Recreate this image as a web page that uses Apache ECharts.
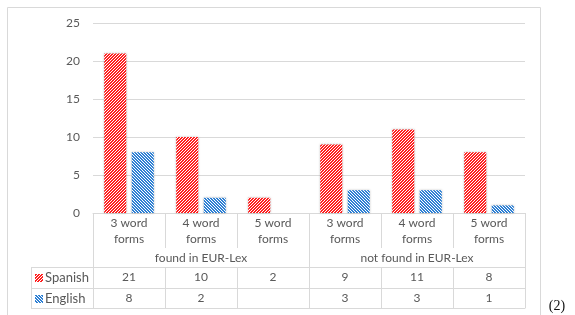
<!DOCTYPE html>
<html>
<head>
<meta charset="utf-8">
<script src="https://cdn.jsdelivr.net/npm/echarts@6/dist/echarts.min.js"></script>
<style>
  html, body { margin: 0; padding: 0; background: #fff; }
  #chart { width: 575px; height: 315px; }
</style>
</head>
<body>
<div id="chart"></div>
<script>
const categories = ['3 word\nforms', '4 word\nforms', '5 word\nforms', '3 word\nforms', '4 word\nforms', '5 word\nforms']
const groups = ['found in EUR-Lex', 'not found in EUR-Lex']
const seriesNames = ['Spanish', 'English']
const spanish = [21, 10, 2, 9, 11, 8]
const english = [8, 2, null, 3, 3, 1]
const yTicks = { min: 0, max: 25, interval: 5 }

const grey = '#595959'
const lineGrey = '#d9d9d9'
const font = 'Lato, "Open Sans", sans-serif'

// hatched fill, dir 1 = "/" and -1 = "\"
function hatch(color, dir, size) {
  const c = document.createElement('canvas')
  c.width = size
  c.height = size
  const ctx = c.getContext('2d')
  ctx.fillStyle = '#fff'
  ctx.fillRect(0, 0, size, size)
  ctx.fillStyle = color
  for (let y = 0; y < size; y++) {
    for (let x = 0; x < size; x++) {
      const k = dir > 0 ? (x + y) % 3 : ((x - y) % 3 + 3) % 3
      if (k < 2) ctx.fillRect(x, y, 1, 1)
    }
  }
  return c
}

const red = '#ff2020'
const blue = '#2e80d4'
const redTile = hatch(red, 1, 3)
const blueTile = hatch(blue, -1, 3)
const redKey = hatch(red, 1, 8)
const blueKey = hatch(blue, -1, 8)

const chart = echarts.init(document.getElementById('chart'))

const gridLeft = 93, gridRight = 50, gridTop = 23, gridBottom = 102
const rowTop = 315 - gridBottom   // 213
const tableCol = 31

function fmt(arr) {
  return arr.map(v => (v == null ? '' : String(v)))
}

const axisText = { color: grey, fontSize: 12, fontFamily: font }

chart.setOption({
  animation: false,
  textStyle: { fontFamily: font },
  grid: { left: gridLeft, right: gridRight, top: gridTop, bottom: gridBottom },
  xAxis: [
    {
      type: 'category',
      data: categories,
      axisLine: { lineStyle: { color: lineGrey } },
      axisTick: { show: true, interval: 0, length: 35, lineStyle: { color: lineGrey } },
      axisLabel: Object.assign({ interval: 0, margin: 2, lineHeight: 16 }, axisText)
    },
    {
      type: 'category',
      data: groups,
      position: 'bottom',
      offset: 35,
      axisLine: { show: false },
      axisTick: { show: true, interval: 0, length: 19, lineStyle: { color: lineGrey } },
      axisLabel: Object.assign({ interval: 0, margin: 4 }, axisText)
    },
    {
      type: 'category',
      data: fmt(spanish),
      position: 'bottom',
      offset: 54,
      axisLine: { show: true, lineStyle: { color: lineGrey } },
      axisTick: { show: true, interval: 0, length: 21, lineStyle: { color: lineGrey } },
      axisLabel: Object.assign({ interval: 0, margin: 4 }, axisText)
    },
    {
      type: 'category',
      data: fmt(english),
      position: 'bottom',
      offset: 75,
      axisLine: { show: true, lineStyle: { color: lineGrey } },
      axisTick: { show: true, interval: 0, length: 20, lineStyle: { color: lineGrey } },
      axisLabel: Object.assign({ interval: 0, margin: 4 }, axisText)
    },
    {
      type: 'category',
      data: categories,
      position: 'bottom',
      offset: 95,
      axisLine: { show: true, lineStyle: { color: lineGrey } },
      axisTick: { show: false },
      axisLabel: { show: false }
    }
  ],
  yAxis: {
    type: 'value',
    min: yTicks.min,
    max: yTicks.max,
    interval: yTicks.interval,
    axisLine: { show: false },
    axisTick: { show: false },
    axisLabel: Object.assign({ margin: 13 }, axisText),
    splitLine: { lineStyle: { color: lineGrey } }
  },
  series: [
    {
      name: seriesNames[0],
      type: 'bar',
      data: spanish,
      barWidth: 22,
      barGap: '25%',
      itemStyle: {
        color: { image: redTile, repeat: 'repeat' },
        shadowBlur: 2,
        shadowColor: 'rgba(0,0,0,0.25)'
      }
    },
    {
      name: seriesNames[1],
      type: 'bar',
      data: english,
      barWidth: 22,
      itemStyle: {
        color: { image: blueTile, repeat: 'repeat' },
        shadowBlur: 2,
        shadowColor: 'rgba(0,0,0,0.25)'
      }
    }
  ],
  graphic: [
    // outer chart frame
    {
      type: 'rect',
      shape: { x: 7.5, y: 7.5, width: 533, height: 320 },
      style: { fill: 'none', stroke: lineGrey, lineWidth: 1 },
      silent: true
    },
    // legend column of the data table
    { type: 'line', shape: { x1: tableCol, y1: rowTop + 54.5, x2: gridLeft, y2: rowTop + 54.5 }, style: { stroke: lineGrey } },
    { type: 'line', shape: { x1: tableCol, y1: rowTop + 75.5, x2: gridLeft, y2: rowTop + 75.5 }, style: { stroke: lineGrey } },
    { type: 'line', shape: { x1: tableCol, y1: rowTop + 95.5, x2: gridLeft, y2: rowTop + 95.5 }, style: { stroke: lineGrey } },
    { type: 'line', shape: { x1: tableCol + 0.5, y1: rowTop + 54, x2: tableCol + 0.5, y2: rowTop + 96 }, style: { stroke: lineGrey } },
    { type: 'image', style: { image: redKey, x: 35, y: rowTop + 61, width: 8, height: 8 } },
    { type: 'image', style: { image: blueKey, x: 35, y: rowTop + 82, width: 8, height: 8 } },
    {
      type: 'text',
      style: { x: 45, y: rowTop + 65, text: seriesNames[0], fill: grey, font: '13px ' + font, verticalAlign: 'middle' }
    },
    {
      type: 'text',
      style: { x: 45, y: rowTop + 86, text: seriesNames[1], fill: grey, font: '13px ' + font, verticalAlign: 'middle' }
    },
    {
      type: 'text',
      style: { x: 557, y: 306, text: '(2)', fill: '#111', font: '14px "Liberation Serif", serif', align: 'center', verticalAlign: 'middle' }
    }
  ]
})
</script>
</body>
</html>
